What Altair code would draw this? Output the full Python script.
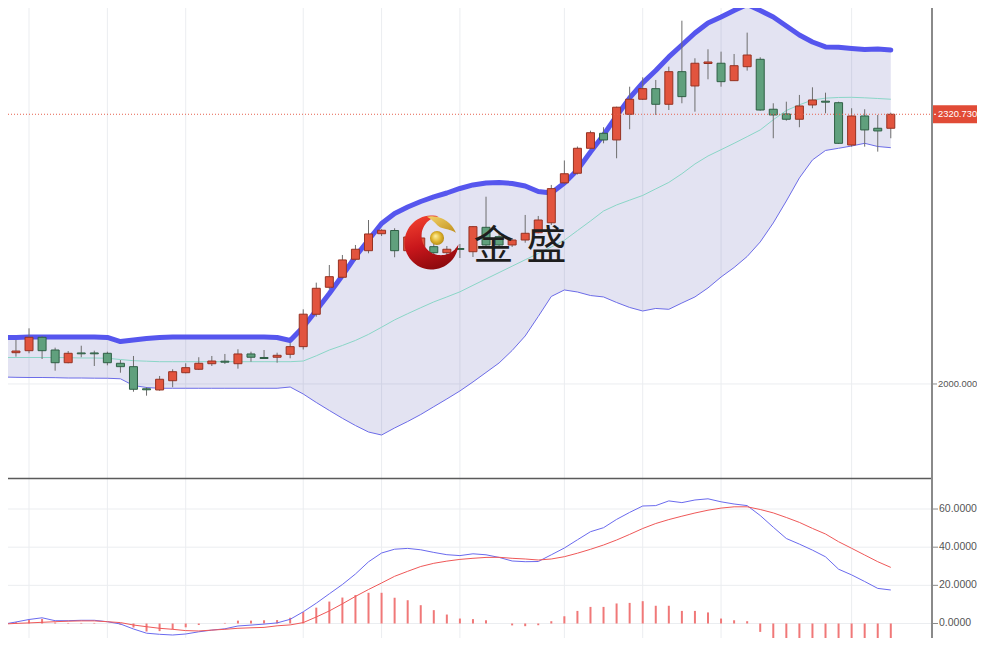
import math
import altair as alt
import pandas as pd

# ---------------- data ----------------
idx = list(range(-1, 68))

open_ = [2033.3, 2037.2, 2039.6, 2055.5, 2040.4, 2025.3, 2036.9, 2036.9, 2036.5, 2024.6,
         2020.6, 1994.3, 1992.9, 2003.9, 2013.4, 2017.5, 2024.1, 2027.1, 2024.1, 2035.7,
         2031.5, 2031.8, 2035.3, 2044.4, 2082.9, 2115.0, 2126.9, 2148.3, 2158.5, 2178.7,
         2182.5, 2158.5, 2161.7, 2163.3, 2156.1, 2161.1, 2157.3, 2186.3, 2175.2, 2165.3,
         2171.2, 2179.9, 2191.7, 2239.2, 2250.6, 2280.3, 2298.1, 2290.2, 2320.7, 2338.6,
         2351.2, 2332.6, 2371.4, 2354.4, 2381.1, 2381.4, 2360.7, 2377.3, 2386.1, 2326.7,
         2321.1, 2314.8, 2331.8, 2336.3, 2334.5, 2284.2, 2318.7, 2304.1, 2304.1]
high = [2040.0, 2052.3, 2066.2, 2057.1, 2043.2, 2039.2, 2045.5, 2039.6, 2038.4, 2028.5,
        2033.3, 1996.1, 2009.5, 2017.5, 2024.6, 2031.8, 2033.3, 2035.7, 2041.3, 2038.4,
        2040.4, 2037.2, 2049.1, 2088.8, 2120.5, 2141.5, 2153.4, 2165.3, 2195.0, 2184.0,
        2185.2, 2178.4, 2180.0, 2167.7, 2164.1, 2166.5, 2187.9, 2222.7, 2179.6, 2173.6,
        2201.0, 2199.8, 2236.7, 2265.8, 2282.4, 2301.2, 2305.3, 2329.8, 2353.5, 2364.7,
        2361.5, 2377.3, 2432.0, 2387.3, 2398.0, 2395.2, 2392.4, 2417.8, 2388.5, 2333.8,
        2335.7, 2343.7, 2352.8, 2346.4, 2335.7, 2327.9, 2326.7, 2319.9, 2322.6]
low = [2031.0, 2032.5, 2036.5, 2029.7, 2015.8, 2024.6, 2031.8, 2021.4, 2022.2, 2013.4,
       1990.8, 1986.1, 1992.0, 1996.1, 2012.7, 2016.6, 2021.4, 2023.8, 2018.2, 2026.5,
       2030.1, 2025.3, 2030.6, 2041.0, 2080.0, 2112.6, 2125.7, 2146.6, 2155.4, 2176.0,
       2150.7, 2155.8, 2158.0, 2152.2, 2151.0, 2149.8, 2151.0, 2163.3, 2161.7, 2162.9,
       2168.0, 2179.2, 2189.1, 2237.8, 2249.1, 2279.1, 2286.2, 2268.4, 2302.9, 2337.7,
       2319.9, 2325.8, 2333.8, 2323.8, 2362.3, 2353.5, 2360.7, 2372.6, 2325.0, 2292.2,
       2313.1, 2305.3, 2327.9, 2321.9, 2285.4, 2282.2, 2282.2, 2276.3, 2292.2]
close = [2038.4, 2039.2, 2055.5, 2039.6, 2025.3, 2036.5, 2035.9, 2035.9, 2025.3, 2020.6,
         1993.7, 1993.1, 2005.6, 2014.6, 2019.4, 2024.6, 2027.3, 2025.9, 2035.7, 2031.8,
         2030.3, 2034.1, 2044.4, 2083.0, 2113.8, 2127.6, 2147.5, 2160.2, 2178.4, 2182.8,
         2158.5, 2174.8, 2173.6, 2156.1, 2160.2, 2160.0, 2187.1, 2165.3, 2165.3, 2171.2,
         2179.2, 2195.0, 2232.3, 2250.0, 2280.3, 2298.8, 2290.2, 2329.1, 2338.6, 2351.2,
         2332.6, 2371.4, 2341.7, 2381.4, 2382.9, 2359.5, 2378.5, 2391.2, 2325.8, 2319.9,
         2314.8, 2330.6, 2337.7, 2335.1, 2286.2, 2318.7, 2302.1, 2300.9, 2320.73]

boll_upper = [2055.3, 2055.3, 2055.9, 2055.9, 2055.9, 2055.9, 2055.9, 2055.9, 2055.3, 2050.5,
              2052.3, 2054.1, 2055.3, 2055.9, 2055.9, 2055.9, 2055.9, 2055.9, 2055.9, 2055.9,
              2055.9, 2055.3, 2051.7, 2067.8, 2087.4, 2107.6, 2129.0, 2151.6, 2171.2, 2190.9,
              2202.8, 2210.5, 2217.0, 2222.4, 2227.1, 2232.5, 2236.7, 2239.0, 2239.6, 2238.4,
              2235.5, 2228.9, 2227.1, 2239.0, 2254.5, 2275.9, 2296.1, 2318.7, 2340.1, 2358.0,
              2372.8, 2388.9, 2403.1, 2417.4, 2429.3, 2436.4, 2444.2, 2451.3, 2444.2, 2436.4,
              2425.7, 2415.0, 2406.7, 2400.8, 2400.4, 2399.0, 2397.8, 2398.4, 2397.2]
boll_mid = [2031.5, 2031.5, 2031.5, 2031.5, 2031.5, 2031.3, 2030.9, 2030.9, 2030.6, 2029.1,
            2027.7, 2027.1, 2026.5, 2026.5, 2026.5, 2026.5, 2026.5, 2026.5, 2026.5, 2026.5,
            2026.5, 2026.5, 2026.5, 2027.3, 2033.5, 2040.4, 2045.8, 2051.8, 2059.0, 2067.5,
            2076.2, 2083.6, 2090.7, 2097.6, 2103.5, 2109.6, 2117.3, 2124.9, 2132.5, 2140.1,
            2147.7, 2155.2, 2162.9, 2170.9, 2182.4, 2193.8, 2205.7, 2212.9, 2218.6, 2224.2,
            2232.0, 2239.7, 2250.0, 2261.6, 2271.1, 2278.6, 2286.2, 2294.1, 2302.1, 2314.2,
            2325.2, 2332.0, 2337.7, 2339.9, 2340.7, 2340.9, 2340.3, 2339.5, 2338.6]
boll_lower = [2008.3, 2007.9, 2007.7, 2007.7, 2007.5, 2007.1, 2007.1, 2006.9, 2006.8, 2006.2,
              1998.2, 1995.8, 1994.9, 1994.9, 1994.9, 1994.9, 1994.9, 1994.9, 1994.9, 1994.9,
              1994.9, 1994.9, 1996.4, 1988.1, 1978.0, 1968.5, 1959.2, 1950.6, 1942.9, 1939.3,
              1947.7, 1955.4, 1963.7, 1973.0, 1982.2, 1991.7, 2002.4, 2013.7, 2025.0, 2039.8,
              2057.1, 2080.3, 2104.1, 2111.8, 2109.4, 2105.2, 2103.5, 2096.9, 2091.0, 2086.8,
              2089.8, 2088.8, 2096.3, 2103.5, 2114.2, 2127.2, 2138.5, 2151.6, 2168.9, 2191.5,
              2217.6, 2245.0, 2266.4, 2277.7, 2280.3, 2283.0, 2286.2, 2282.4, 2281.0]

macd_dif = [-0.42, 0.79, 2.10, 2.99, 1.47, 1.47, 1.68, 1.68, 0.94, -0.26,
            -2.88, -5.08, -5.66, -6.03, -5.50, -4.35, -3.46, -2.78, -1.31, -0.84,
            -0.31, 0.31, 2.20, 6.13, 10.64, 15.57, 20.44, 25.94, 32.34, 36.95,
            38.94, 39.36, 38.63, 37.26, 36.06, 35.59, 36.53, 36.01, 34.64, 32.76,
            32.39, 32.49, 36.01, 39.57, 43.87, 48.11, 50.21, 54.56, 58.23, 61.58,
            61.79, 64.26, 63.36, 64.73, 65.36, 63.78, 62.63, 61.79, 56.60, 50.47,
            44.55, 41.61, 38.47, 34.96, 28.46, 25.47, 22.01, 18.40, 17.56]
macd_dea = [-0.31, 0.05, 0.31, 0.63, 0.94, 1.21, 1.36, 1.36, 0.94, 0.47,
            -0.79, -1.68, -2.52, -3.04, -3.72, -3.93, -3.46, -3.04, -2.52, -2.25,
            -2.04, -1.21, -0.73, 0.47, 3.41, 6.60, 10.32, 14.20, 17.82, 21.23,
            24.74, 27.36, 29.87, 31.55, 32.70, 33.60, 34.17, 34.64, 34.70, 34.17,
            33.81, 33.28, 33.81, 35.01, 36.84, 38.89, 41.14, 43.76, 46.70, 49.79,
            52.41, 54.46, 56.24, 57.91, 59.38, 60.48, 61.16, 61.16, 59.75, 57.97,
            55.56, 52.99, 49.84, 46.91, 42.87, 39.41, 35.90, 32.39, 29.40]
macd_hist = [-0.1, 0.7, 1.8, 2.4, 0.5, 0.3, 0.3, 0.3, 0.0, -0.7,
             -2.1, -4.2, -4.0, -3.1, -2.0, -0.8, 0.0, 0.3, 1.5, 1.5,
             1.7, 1.8, 3.0, 6.0, 8.3, 11.5, 13.6, 14.9, 16.1, 16.1,
             13.5, 12.2, 9.6, 7.0, 4.7, 2.6, 2.3, 1.7, 0.0, -1.0,
             -1.4, -0.9, 1.2, 3.8, 6.6, 8.7, 8.7, 10.5, 10.8, 11.7,
             9.3, 9.3, 6.6, 6.6, 5.8, 2.6, 1.7, 1.2, -4.4, -8.2,
             -10.8, -11.4, -11.4, -11.4, -14.4, -14.0, -13.9, -14.0, -12.6]

last_price = 2320.73
price_ticks = [2000]
macd_ticks = [0, 20, 40, 60]
grid_idx = [1, 7, 13, 22, 28, 34, 42, 48, 54, 64]
wm_chars = ["金", "盛"]

# ---------------- frames ----------------
df = pd.DataFrame({
    "i": idx, "o": open_, "h": high, "l": low, "c": close,
    "up": boll_upper, "mid": boll_mid, "lo": boll_lower,
    "dif": macd_dif, "dea": macd_dea, "hist": macd_hist,
})
df["dir"] = ["up" if c >= o else "down" for o, c in zip(open_, close)]
df["zero"] = 0.0
pdf = pd.DataFrame({"p": [last_price]})
gdf = pd.DataFrame({"g": grid_idx})
ptdf = pd.DataFrame({"v": price_ticks})
mtdf = pd.DataFrame({"v": macd_ticks})

W, H = 924, 630
xs = alt.Scale(domain=[-0.2273, 69.773], nice=False, zero=False)
ys_main = alt.Scale(domain=[1888.2, 2447.1], range=[470, 0], nice=False, zero=False)
ys_macd = alt.Scale(domain=[-7.60, 76.26], range=[630, 470], nice=False, zero=False)

FONT = "Liberation Sans"
AXIS_GREY = "#8a8a8a"
GRID = "#ebedf0"
LABEL = "#555555"
PRICE_FS = 9.4
X = alt.X("i:Q", scale=xs, axis=None)


def YM(field):
    return alt.Y(field, scale=ys_main, axis=None)


def YD(field):
    return alt.Y(field, scale=ys_macd, axis=None)


base = alt.Chart(df)

# ---- price panel ----
pgrid = alt.Chart(ptdf).mark_rule(color=GRID, strokeWidth=1).encode(
    x=alt.value(0), x2=alt.value(W), y=YM("v:Q"))
band = base.mark_area(fill="#3c3ca0", fillOpacity=0.14, clip=True).encode(
    x=X, y=YM("up:Q"), y2="lo:Q")
mid_line = base.mark_line(color="#8ad6c7", strokeWidth=1, clip=True).encode(x=X, y=YM("mid:Q"))
lower_line = base.mark_line(color="#6c6ce8", strokeWidth=1, clip=True).encode(x=X, y=YM("lo:Q"))
upper_line = base.mark_line(color="#5656ee", strokeWidth=5, strokeJoin="round",
                            strokeCap="round", clip=True).encode(x=X, y=YM("up:Q"))
wick = base.mark_rule(color="#6e6e6e", strokeWidth=1, clip=True).encode(
    x=X, y=YM("l:Q"), y2="h:Q")
body = base.mark_bar(width=8, strokeWidth=1, clip=True).encode(
    x=X, y=YM("o:Q"), y2="c:Q",
    fill=alt.Fill("dir:N", scale=alt.Scale(domain=["up", "down"], range=["#e2543e", "#60a07d"]), legend=None),
    stroke=alt.Stroke("dir:N", scale=alt.Scale(domain=["up", "down"], range=["#963222", "#2f5f45"]), legend=None),
)
ptick_axis = alt.Chart(ptdf).mark_rule(color=AXIS_GREY, strokeWidth=1).encode(
    x=alt.value(W), x2=alt.value(W + 5), y=YM("v:Q"))
plabel = alt.Chart(ptdf).mark_text(align="left", baseline="middle", color=LABEL,
                                   fontSize=PRICE_FS, font=FONT).encode(
    x=alt.value(W + 6), y=YM("v:Q"), text=alt.Text("v:Q", format=".3f"))

pbase = alt.Chart(pdf)
pline = pbase.mark_rule(color="#e5624e", strokeDash=[1, 2], strokeWidth=1).encode(
    x=alt.value(0), x2=alt.value(W), y=YM("p:Q"))
pbox = pbase.transform_calculate(top="datum.p + 10.7", bot="datum.p - 10.7").mark_rect(
    color="#e14b36").encode(
    x=alt.value(W + 1), x2=alt.value(W + 70), y=YM("top:Q"), y2="bot:Q")
pbox_tick = pbase.mark_rule(color="white", strokeWidth=1).encode(
    x=alt.value(W + 2), x2=alt.value(W + 4), y=YM("p:Q"))
ptext = pbase.mark_text(align="left", baseline="middle", color="white", fontSize=PRICE_FS,
                        font=FONT).encode(
    x=alt.value(W + 6), y=YM("p:Q"), text=alt.Text("p:Q", format=".3f"))

main = alt.layer(pgrid, band, mid_line, lower_line, upper_line, wick, body, pline,
                 ptick_axis, plabel, pbox, pbox_tick, ptext)

# ---- MACD panel ----
mgrid = alt.Chart(mtdf).mark_rule(color=GRID, strokeWidth=1).encode(
    x=alt.value(0), x2=alt.value(W), y=YD("v:Q"))
hist_l = base.mark_rule(color="#f07878", strokeWidth=2, clip=True).encode(
    x=X, y=YD("hist:Q"), y2="zero:Q")
dif_l = base.mark_line(color="#6a6aee", strokeWidth=1, clip=True).encode(x=X, y=YD("dif:Q"))
dea_l = base.mark_line(color="#ef5858", strokeWidth=1, clip=True).encode(x=X, y=YD("dea:Q"))
mtick_axis = alt.Chart(mtdf).mark_rule(color=AXIS_GREY, strokeWidth=1).encode(
    x=alt.value(W), x2=alt.value(W + 6), y=YD("v:Q"))
mlabel = alt.Chart(mtdf).mark_text(align="left", baseline="middle", color=LABEL,
                                   fontSize=10.5, font=FONT).encode(
    x=alt.value(W + 7), y=YD("v:Q"), text=alt.Text("v:Q", format=".4f"))
macd = alt.layer(mgrid, hist_l, dif_l, dea_l, mtick_axis, mlabel)

# ---- frame pieces ----
one = alt.Data(values=[{}])
vgrid = alt.Chart(gdf).mark_rule(color=GRID, strokeWidth=1).encode(
    x=alt.X("g:Q", scale=xs, axis=None), y=alt.value(0), y2=alt.value(H))
sep = alt.Chart(one).mark_rule(color="#5a5a5a", strokeWidth=1.5).encode(
    x=alt.value(0), x2=alt.value(W), y=alt.value(470.5))
vaxis = alt.Chart(one).mark_rule(color=AXIS_GREY, strokeWidth=2).encode(
    x=alt.value(W), y=alt.value(0), y2=alt.value(H))


# ---------------- watermark logo (decoration) ----------------
def crescent_path(cx2=0.35, cy2=-0.25, r2=0.72, n=48):
    d = math.hypot(cx2, cy2)
    a = (1 - r2 ** 2 + d ** 2) / (2 * d)
    h = math.sqrt(1 - a * a)
    ux, uy = cx2 / d, cy2 / d
    px, py = a * ux, a * uy
    p1 = (px - h * uy, py + h * ux)
    p2 = (px + h * uy, py - h * ux)
    a1 = math.atan2(p1[1], p1[0])
    a2 = math.atan2(p2[1], p2[0]) + 2 * math.pi
    pts = []
    for k in range(n + 1):
        t = a1 + (a2 - a1) * k / n
        pts.append((math.cos(t), math.sin(t)))
    b2 = math.atan2(p2[1] - cy2, p2[0] - cx2)
    b1 = math.atan2(p1[1] - cy2, p1[0] - cx2) - 2 * math.pi
    for k in range(n + 1):
        t = b2 + (b1 - b2) * k / n
        pts.append((cx2 + r2 * math.cos(t), cy2 + r2 * math.sin(t)))
    return "M" + "L".join(f"{x:.3f},{y:.3f}" for x, y in pts) + "Z"


def leaf_path(a_from=-100, a_to=-22, r=0.97, thick=0.32, n=30):
    pts = []
    for k in range(n + 1):
        t = math.radians(a_from + (a_to - a_from) * k / n)
        pts.append((r * math.cos(t), r * math.sin(t)))
    for k in range(n + 1):
        s = 1 - k / n
        t = math.radians(a_from + (a_to - a_from) * s)
        rr = r - thick * math.sin(math.pi * s)
        pts.append((rr * math.cos(t), rr * math.sin(t)))
    return "M" + "L".join(f"{x:.3f},{y:.3f}" for x, y in pts) + "Z"


red_grad = alt.LinearGradient(
    gradient="linear",
    stops=[alt.GradientStop(color="#f2412f", offset=0),
           alt.GradientStop(color="#c8161b", offset=0.55),
           alt.GradientStop(color="#8e0a0e", offset=1)],
    x1=0.2, y1=0, x2=0.5, y2=1)
gold_grad = alt.RadialGradient(
    gradient="radial",
    stops=[alt.GradientStop(color="#fff2a6", offset=0),
           alt.GradientStop(color="#e0b52e", offset=0.55),
           alt.GradientStop(color="#a67c12", offset=1)],
    x1=0.38, y1=0.35, r1=0, x2=0.5, y2=0.5, r2=0.6)
leaf_grad = alt.LinearGradient(
    gradient="linear",
    stops=[alt.GradientStop(color="#f3d36a", offset=0),
           alt.GradientStop(color="#c0901c", offset=1)],
    x1=0, y1=0, x2=1, y2=1)

crescent = alt.Chart(one).mark_point(shape=crescent_path(), size=2916, filled=True,
                                     fill=red_grad, strokeWidth=0, opacity=1).encode(
    x=alt.value(423.5), y=alt.value(234.5))
leaf = alt.Chart(one).mark_point(shape=leaf_path(), size=2916, filled=True,
                                 fill=leaf_grad, strokeWidth=0, opacity=1).encode(
    x=alt.value(423.5), y=alt.value(234.5))
ball = alt.Chart(one).mark_point(shape="circle", size=200, filled=True,
                                 fill=gold_grad, strokeWidth=0, opacity=1).encode(
    x=alt.value(429), y=alt.value(230))
wm1 = alt.Chart(one).mark_text(text=wm_chars[0], font="Noto Sans CJK SC", fontSize=40,
                               color="#1e1e1e", align="left", baseline="middle").encode(
    x=alt.value(465.5), y=alt.value(238.5))
wm2 = alt.Chart(one).mark_text(text=wm_chars[1], font="Noto Sans CJK SC", fontSize=40,
                               color="#1e1e1e", align="left", baseline="middle").encode(
    x=alt.value(518.5), y=alt.value(238.5))

chart = alt.layer(vgrid, main, macd, sep, vaxis, crescent, leaf, ball, wm1, wm2).resolve_scale(
    y="independent"
).properties(
    width=W, height=H,
    autosize=alt.AutoSizeParams(type="none"),
    padding={"left": 0, "top": 0, "right": 45, "bottom": 0},
    background="white",
).configure_view(stroke=None)

chart.save("out.html", embed_options={"renderer": "svg", "actions": False})
